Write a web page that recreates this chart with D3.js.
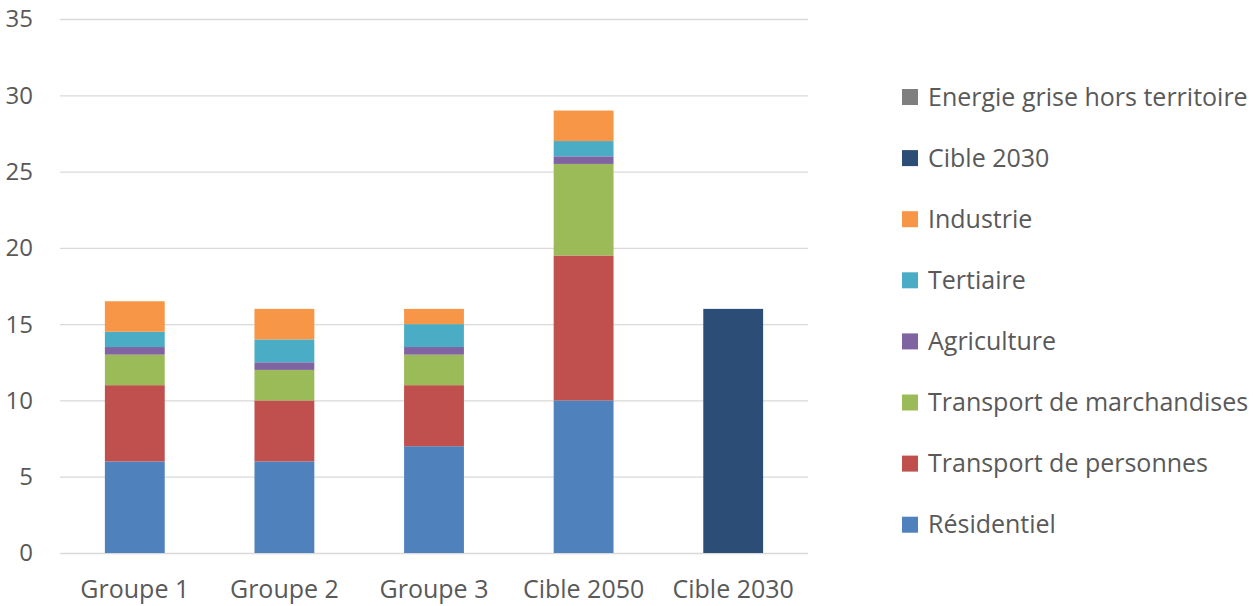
<!DOCTYPE html>
<html>
<head>
    <meta charset="utf-8">
    <script src="https://cdnjs.cloudflare.com/ajax/libs/d3/7.8.5/d3.min.js"></script>
    <style>
        body {
            margin: 0;
            background: #fff;
            font-family: "Open Sans", "Noto Sans", sans-serif;
        }
    </style>
</head>
<body>
    <svg id="chart" width="1257" height="606"></svg>
    <script>
        // categories on the x axis
        const categories = ["Groupe 1", "Groupe 2", "Groupe 3", "Cible 2050", "Cible 2030"];

        // series, bottom to top of each stack
        const seriesNames = ["Résidentiel", "Transport de personnes", "Transport de marchandises",
            "Agriculture", "Tertiaire", "Industrie", "Cible 2030", "Energie grise hors territoire"];

        const residentiel = [6, 6, 7, 10, 0];
        const transportPersonnes = [5, 4, 4, 9.5, 0];
        const transportMarchandises = [2, 2, 2, 6, 0];
        const agriculture = [0.5, 0.5, 0.5, 0.5, 0];
        const tertiaire = [1, 1.5, 1.5, 1, 0];
        const industrie = [2, 2, 1, 2, 0];
        const cible2030 = [0, 0, 0, 0, 16];
        const energieGrise = [0, 0, 0, 0, 0];

        const yTicks = [0, 5, 10, 15, 20, 25, 30, 35];

        const colors = ["#4f81bd", "#c0504d", "#9bbb59", "#8064a2", "#4bacc6", "#f79646", "#2c4d75", "#7f7f7f"];

        const allSeries = [residentiel, transportPersonnes, transportMarchandises, agriculture,
            tertiaire, industrie, cible2030, energieGrise];

        // build a table for d3.stack
        const table = categories.map((c, i) => {
            const row = { cat: c };
            seriesNames.forEach((s, j) => row[s] = allSeries[j][i]);
            return row;
        });

        const stacked = d3.stack().keys(seriesNames)(table);

        const svg = d3.select("#chart");
        const textColor = "#595959";

        const x = d3.scaleBand()
            .domain(categories)
            .range([60, 808])
            .paddingInner(0.6)
            .paddingOuter(0.3);

        const y = d3.scaleLinear()
            .domain([0, 35])
            .range([553, 19]);

        // grid lines
        svg.append("g")
            .selectAll("line")
            .data(yTicks)
            .enter()
            .append("line")
            .attr("x1", 60)
            .attr("x2", 808)
            .attr("y1", d => y(d) + 0.5)
            .attr("y2", d => y(d) + 0.5)
            .attr("stroke", "#d9d9d9")
            .attr("stroke-width", 1.3);

        // y axis labels
        svg.append("g")
            .selectAll("text")
            .data(yTicks)
            .enter()
            .append("text")
            .attr("x", 33)
            .attr("y", d => y(d))
            .attr("dy", "0.35em")
            .attr("text-anchor", "end")
            .attr("fill", textColor)
            .style("font-size", "24px")
            .text(d => d);

        // bars
        svg.append("g")
            .selectAll("g")
            .data(stacked)
            .enter()
            .append("g")
            .attr("fill", (d, i) => colors[i])
            .selectAll("rect")
            .data(d => d)
            .enter()
            .append("rect")
            .attr("x", d => x(d.data.cat))
            .attr("width", x.bandwidth())
            .attr("y", d => y(d[1]))
            .attr("height", d => y(d[0]) - y(d[1]));

        // x axis labels
        svg.append("g")
            .selectAll("text")
            .data(categories)
            .enter()
            .append("text")
            .attr("x", d => x(d) + x.bandwidth() / 2)
            .attr("y", 589)
            .attr("dy", "0.35em")
            .attr("text-anchor", "middle")
            .attr("fill", textColor)
            .style("font-size", "25px")
            .text(d => d);

        // legend, top to bottom is reverse of stack order
        const legendItems = seriesNames.map((s, i) => ({ name: s, color: colors[i] })).reverse();

        const legend = svg.append("g")
            .selectAll("g")
            .data(legendItems)
            .enter()
            .append("g")
            .attr("transform", (d, i) => "translate(902," + (97 + i * 61.1) + ")");

        legend.append("rect")
            .attr("x", 0)
            .attr("y", -8)
            .attr("width", 16)
            .attr("height", 16)
            .attr("fill", d => d.color);

        legend.append("text")
            .attr("x", 26)
            .attr("y", 0)
            .attr("dy", "0.35em")
            .attr("fill", textColor)
            .style("font-size", "25px")
            .text(d => d.name);
    </script>
</body>
</html>
